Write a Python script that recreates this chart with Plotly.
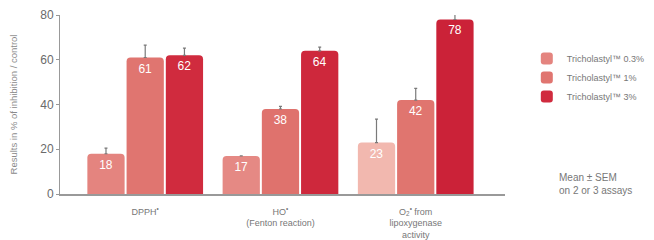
import plotly.graph_objects as go

categories = [
    "DPPH<sup>•</sup>",
    "HO<sup>•</sup><br>(Fenton reaction)",
    "O<sub>2</sub><sup>•</sup> from<br>lipoxygenase<br>activity",
]
series_names = ["Tricholastyl™ 0.3%", "Tricholastyl™ 1%", "Tricholastyl™ 3%"]
values_03 = [18, 17, 23]
values_1 = [61, 38, 42]
values_3 = [62, 64, 78]
sem_03 = [2.5, 0, 10.5]
sem_1 = [5.5, 1.2, 5.2]
sem_3 = [3.2, 1.6, 3.4]
colors_03 = ["#e4847f", "#e58984", "#f2b8af"]
colors_1 = ["#e07570", "#df726d", "#e0756f"]
colors_3 = ["#d02b3e", "#ce283c", "#cb2238"]
y_ticks = [0, 20, 40, 60, 80]

FONT = "Liberation Sans, Arial, sans-serif"
x_pos = list(range(len(categories)))

fig = go.Figure()
for name, vals, errs, cols in [
    (series_names[0], values_03, sem_03, colors_03),
    (series_names[1], values_1, sem_1, colors_1),
    (series_names[2], values_3, sem_3, colors_3),
]:
    fig.add_trace(go.Bar(
        x=x_pos, y=vals, name=name,
        marker=dict(color=cols, line=dict(width=0)),
        text=[str(v) for v in vals],
        textposition="inside", insidetextanchor="end", textangle=0,
        textfont=dict(color="white", size=12, family=FONT),
        cliponaxis=False,
        error_y=dict(type="data", array=errs, arrayminus=[0] * len(errs),
                     symmetric=False, color="#7a7a7a", thickness=1.2, width=1.5),
    ))

fig.update_layout(
    width=646, height=232,
    margin=dict(l=52, r=149, t=7, b=46, autoexpand=False),
    paper_bgcolor="white", plot_bgcolor="white",
    barmode="group", bargap=0.13, bargroupgap=0.05,
    barcornerradius=4,
    font=dict(family=FONT, color="#777777"),
    showlegend=True,
    legend=dict(x=1.049, y=0.838, xanchor="left", yanchor="top",
                font=dict(size=9, color="#777777", family=FONT),
                tracegroupgap=0, itemwidth=30),
    xaxis=dict(range=[-0.63, 2.66], tickvals=x_pos, ticktext=categories,
               showline=True, linecolor="#999999", linewidth=1.5,
               ticks="outside", ticklen=8, tickcolor="rgba(0,0,0,0)",
               showgrid=False, zeroline=False, automargin=False,
               tickfont=dict(size=9, color="#777777", family=FONT)),
    yaxis=dict(range=[0, 80], tickvals=y_ticks, showline=True,
               linecolor="#999999", linewidth=1, ticks="outside", ticklen=3,
               tickcolor="#999999", showgrid=False, zeroline=False,
               automargin=False,
               tickfont=dict(size=12, color="#6a6a6a", family=FONT),
               title=dict(text="Results in % of inhibition / control",
                          font=dict(size=9.5, color="#8a8a8a", family=FONT),
                          standoff=20)),
    annotations=[dict(
        text="Mean ± SEM<br>on 2 or 3 assays", xref="paper", yref="paper",
        x=1.117, y=0.056, xanchor="left", yanchor="middle", align="left",
        showarrow=False, font=dict(size=10, color="#777777", family=FONT))],
)

fig.write_html("out.html")
